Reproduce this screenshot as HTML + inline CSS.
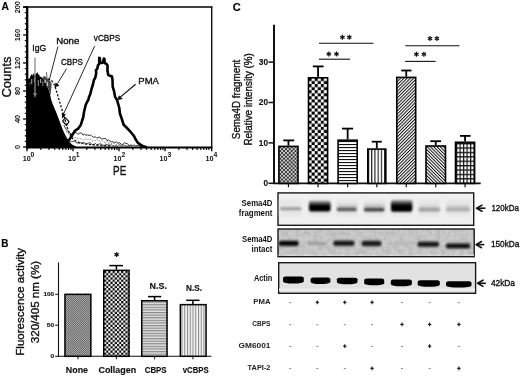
<!DOCTYPE html>
<html><head><meta charset="utf-8"><style>
html,body{margin:0;padding:0;background:#fff;}
body{width:520px;height:376px;overflow:hidden;}
svg{display:block;font-family:"Liberation Sans", sans-serif;-webkit-font-smoothing:antialiased;filter:grayscale(1);}
</style></head><body>
<svg width="520" height="376" viewBox="0 0 520 376">
<rect width="520" height="376" fill="#fff"/>

<defs>
<pattern id="pB1" x="0" y="295" width="2" height="13" patternUnits="userSpaceOnUse"><rect width="2" height="7" fill="#a6a6a6"/><rect y="7" width="2" height="6" fill="#949494"/><rect x="0" y="0" width="1" height="1" fill="#6c6c6c"/><rect x="1" y="1" width="1" height="1" fill="#6c6c6c"/><rect x="0" y="2" width="1" height="1" fill="#6c6c6c"/><rect x="1" y="3" width="1" height="1" fill="#6c6c6c"/><rect x="0" y="4" width="1" height="1" fill="#6c6c6c"/><rect x="1" y="5" width="1" height="1" fill="#6c6c6c"/><rect x="0" y="6" width="1" height="1" fill="#6c6c6c"/><rect x="1" y="7" width="1" height="1" fill="#7c7c7c"/><rect x="0" y="8" width="1" height="1" fill="#7c7c7c"/><rect x="1" y="9" width="1" height="1" fill="#7c7c7c"/><rect x="0" y="10" width="1" height="1" fill="#7c7c7c"/><rect x="1" y="11" width="1" height="1" fill="#7c7c7c"/><rect x="0" y="12" width="1" height="1" fill="#7c7c7c"/></pattern>
<pattern id="pB2" x="104" y="271" width="4.3" height="4.3" patternUnits="userSpaceOnUse"><rect width="4.3" height="4.3" fill="#fff"/><rect width="2.15" height="2.15" fill="#000"/><rect x="2.15" y="2.15" width="2.15" height="2.15" fill="#000"/></pattern>
<pattern id="pB3" width="4" height="2.6" patternUnits="userSpaceOnUse"><rect width="4" height="2.6" fill="#e2e2e2"/><rect y="0" width="4" height="1.2" fill="#8a8a8a"/></pattern>
<pattern id="pB4" width="2.75" height="4" patternUnits="userSpaceOnUse"><rect width="2.75" height="4" fill="#f2f2f2"/><rect x="0" width="1" height="4" fill="#8a8a8a"/></pattern>
<pattern id="pC1" width="3.8" height="3.8" patternUnits="userSpaceOnUse"><rect width="3.8" height="3.8" fill="#d0d0d0"/><rect width="1.9" height="1.9" fill="#333"/><rect x="1.9" y="1.9" width="1.9" height="1.9" fill="#333"/></pattern>
<pattern id="pC2" x="308.6" y="78" width="6.1" height="6.1" patternUnits="userSpaceOnUse"><rect width="6.1" height="6.1" fill="#fff"/><rect width="3.05" height="3.05" fill="#000"/><rect x="3.05" y="3.05" width="3.05" height="3.05" fill="#000"/></pattern>
<pattern id="pC3" width="4" height="3" patternUnits="userSpaceOnUse"><rect width="4" height="3" fill="#fff"/><rect width="4" height="1.1" fill="#111"/></pattern>
<pattern id="pC4" width="3.2" height="4" patternUnits="userSpaceOnUse"><rect width="3.2" height="4" fill="#fff"/><rect width="1.1" height="4" fill="#111"/></pattern>
<pattern id="pC5" width="2.3" height="2.3" patternUnits="userSpaceOnUse" patternTransform="rotate(45)"><rect width="2.3" height="2.3" fill="#fff"/><rect width="1.0" height="2.3" fill="#111"/></pattern>
<pattern id="pC6" width="2.3" height="2.3" patternUnits="userSpaceOnUse" patternTransform="rotate(-45)"><rect width="2.3" height="2.3" fill="#fff"/><rect width="1.0" height="2.3" fill="#111"/></pattern>
<pattern id="pC7" x="456" y="143" width="3.5" height="4.4" patternUnits="userSpaceOnUse"><rect width="3.5" height="4.4" fill="#fff"/><rect width="3.5" height="1.3" fill="#111"/><rect width="1.2" height="4.4" fill="#111"/></pattern>
<linearGradient id="gBand" x1="0" y1="0" x2="0" y2="1"><stop offset="0" stop-color="#b0b0b0"/><stop offset="0.2" stop-color="#555"/><stop offset="0.38" stop-color="#080808"/><stop offset="1" stop-color="#000"/></linearGradient>
<filter id="noise" x="0" y="0" width="100%" height="100%"><feTurbulence type="fractalNoise" baseFrequency="0.22" numOctaves="2" seed="4"/><feColorMatrix type="matrix" values="0 0 0 0 0  0 0 0 0 0  0 0 0 0 0  0 0 0 -1.2 0.75"/></filter>
<filter id="blur3" x="-20%" y="-100%" width="140%" height="300%"><feGaussianBlur stdDeviation="0.85"/></filter>
<filter id="blur1" x="-20%" y="-50%" width="140%" height="200%"><feGaussianBlur stdDeviation="0.9"/></filter>
<filter id="blur2" x="-20%" y="-50%" width="140%" height="200%"><feGaussianBlur stdDeviation="0.6"/></filter>
</defs>
<text x="1.6" y="10.3" font-size="10.6" font-weight="bold" text-anchor="start" fill="#000" textLength="7.4" lengthAdjust="spacingAndGlyphs" stroke="#000" stroke-width="0.15">A</text>
<text transform="translate(20.4,7.2) rotate(-90)" x="0" y="0" font-size="7.4" font-weight="bold" text-anchor="middle" fill="#111" textLength="12.300000000000002" lengthAdjust="spacingAndGlyphs">200</text>
<text transform="translate(20.4,35.1) rotate(-90)" x="0" y="0" font-size="7.4" font-weight="bold" text-anchor="middle" fill="#111" textLength="12.300000000000002" lengthAdjust="spacingAndGlyphs">160</text>
<text transform="translate(20.4,63) rotate(-90)" x="0" y="0" font-size="7.4" font-weight="bold" text-anchor="middle" fill="#111" textLength="12.300000000000002" lengthAdjust="spacingAndGlyphs">120</text>
<text transform="translate(20.4,91) rotate(-90)" x="0" y="0" font-size="7.4" font-weight="bold" text-anchor="middle" fill="#111" textLength="8.200000000000001" lengthAdjust="spacingAndGlyphs">80</text>
<text transform="translate(20.4,119) rotate(-90)" x="0" y="0" font-size="7.4" font-weight="bold" text-anchor="middle" fill="#111" textLength="8.200000000000001" lengthAdjust="spacingAndGlyphs">40</text>
<text transform="translate(20.4,147) rotate(-90)" x="0" y="0" font-size="7.4" font-weight="bold" text-anchor="middle" fill="#111" textLength="4.1000000000000005" lengthAdjust="spacingAndGlyphs">0</text>
<text transform="translate(10.8,77) rotate(-90)" x="0" y="0" font-size="12.8" font-weight="normal" text-anchor="middle" fill="#111" textLength="41" lengthAdjust="spacingAndGlyphs" stroke="#111" stroke-width="0.35">Counts</text>
<polygon points="28.00,147.50 28.00,79.00 29.50,78.50 30.50,76.00 31.50,74.00 32.50,76.00 33.00,72.80 34.00,75.00 36.00,74.00 37.40,72.00 38.30,75.00 39.00,74.00 40.00,77.00 41.00,76.50 42.00,78.00 43.00,78.50 45.00,81.00 46.50,85.00 48.50,89.00 49.80,93.00 50.60,97.00 51.30,100.00 52.30,103.00 53.50,106.00 55.00,109.50 56.50,113.00 58.00,117.00 59.50,121.00 61.00,125.00 62.50,129.00 64.00,132.50 65.50,135.50 67.00,138.00 68.50,140.50 70.00,142.50 72.00,144.50 75.00,146.00 78.00,147.50" fill="#000"/>
<polygon points="42.00,78.00 44.00,76.00 46.00,77.00 48.00,79.00 50.00,80.50 51.50,83.00 51.50,87.00 51.00,91.00 50.50,95.00 49.80,93.00 48.50,89.00 46.50,85.00 45.00,81.00 43.00,78.50" fill="#4a4a4a"/>
<rect x="31.20" y="79.00" width="1.00" height="5.00" fill="#aaa"/>
<rect x="33.80" y="78.00" width="0.90" height="4.00" fill="#888"/>
<rect x="37.80" y="80.00" width="1.00" height="6.00" fill="#999"/>
<rect x="40.20" y="79.00" width="1.00" height="4.00" fill="#bbb"/>
<rect x="42.30" y="81.00" width="1.00" height="5.00" fill="#888"/>
<rect x="29.50" y="82.00" width="0.80" height="3.00" fill="#666"/>
<rect x="44.50" y="80.00" width="1.20" height="3.00" fill="#ccc"/>
<rect x="46.80" y="82.00" width="1.20" height="4.00" fill="#bbb"/>
<line x1="46.5" y1="72" x2="47" y2="79" stroke="#666" stroke-width="1.0"/>
<line x1="35.0" y1="57.4" x2="35.0" y2="95" stroke="#8c8c8c" stroke-width="1.3"/>
<polygon points="33.00,93.00 37.00,93.00 35.00,98.00" fill="#7c7c7c"/>
<line x1="57.9" y1="46.6" x2="49.5" y2="79" stroke="#111" stroke-width="0.9"/>
<line x1="66.6" y1="68.6" x2="57.5" y2="83.5" stroke="#111" stroke-width="0.9"/>
<polygon points="54.60,87.60 55.60,82.60 59.40,85.60" fill="#000"/>
<line x1="94.6" y1="46.1" x2="63.8" y2="113.5" stroke="#111" stroke-width="0.9"/>
<polygon points="62.00,118.50 61.80,112.80 65.80,114.60" fill="#000"/>
<polyline points="48.00,79.00 50.00,79.50 52.00,81.00 54.00,84.00 55.50,88.00 57.00,93.00 58.50,98.00 60.00,103.00 61.50,108.00 63.00,113.00 64.50,118.00 66.00,123.00 67.50,128.00 69.00,132.00 71.00,136.00 73.00,139.00 76.00,141.00 80.00,143.00 86.00,144.00 95.00,145.00 110.00,146.00" fill="none" stroke="#111" stroke-width="1.3" stroke-dasharray="2.2,1.6"/>
<polyline points="64.00,125.37 66.00,129.11 68.00,131.69 70.00,133.25 72.00,134.30 74.00,132.71 76.00,132.33 78.00,134.31 80.00,132.92 81.50,133.11 83.00,135.19 84.50,134.18 86.00,135.31 87.50,134.82 89.00,135.58 90.50,134.79 92.00,136.32 93.50,137.26 95.00,136.81 96.50,137.70 98.00,137.91 99.50,136.83 101.00,138.87 102.50,138.84 104.00,138.52 105.50,138.25 107.00,140.63 108.50,140.06 110.00,141.03 111.60,141.81 113.20,141.81 114.80,142.71 116.40,141.85 118.00,143.22 119.60,142.71 121.20,144.23 122.80,144.43 124.40,142.89 126.00,143.33 127.60,143.78 129.20,145.84 130.80,144.83 132.40,145.54 134.00,145.02 135.60,145.72 137.20,145.63 138.80,145.74 140.40,146.50 142.00,146.50" fill="none" stroke="#222" stroke-width="0.9"/>
<polyline points="64.00,136.15 65.50,137.85 67.00,138.58 68.50,140.15 70.00,141.14 71.50,141.76 73.00,141.56 74.50,141.02 76.00,142.65 77.60,143.04 79.20,143.13 80.80,142.72 82.40,143.18 84.00,142.48 85.60,143.76 87.20,143.45 88.80,143.09 90.40,142.85 92.00,144.44 93.60,144.82 95.20,143.34 96.80,144.76 98.40,144.20 100.00,143.87 101.43,144.20 102.86,145.13 104.29,145.39 105.71,143.97 107.14,145.06 108.57,144.11 110.00,145.39 111.43,144.78 112.86,145.86 114.29,146.12 115.71,145.35 117.14,146.33 118.57,145.17 120.00,144.84 121.50,145.88 123.00,144.96 124.50,145.36 126.00,145.83 127.50,146.30 129.00,145.58 130.50,145.48 132.00,146.40" fill="none" stroke="#333" stroke-width="0.9"/>
<polyline points="66.00,131.74 67.50,132.13 69.00,134.92 70.50,136.29 72.00,136.76 73.60,137.22 75.20,137.64 76.80,138.19 78.40,138.39 80.00,138.62 81.60,138.94 83.20,139.78 84.80,139.11 86.40,139.16 88.00,139.94 89.60,139.18 91.20,139.50 92.80,141.06 94.40,140.34 96.00,140.60 97.60,139.82 99.20,140.93 100.80,141.56 102.40,140.74 104.00,142.23 105.60,142.50 107.20,141.60 108.80,142.97 110.40,142.89 112.00,143.56 113.60,143.13 115.20,144.05 116.80,144.34 118.40,143.12 120.00,144.30" fill="none" stroke="#555" stroke-width="0.7" stroke-dasharray="1.5,1.2"/>
<polyline points="62.50,121.00 65.50,117.80 69.00,121.50 66.50,125.50 62.50,121.00" fill="none" stroke="#111" stroke-width="1.2"/>
<polyline points="62.00,146.50 66.00,143.00 69.60,139.30 72.00,135.50 75.00,130.70 77.90,128.90 80.90,124.70 82.00,121.00 83.30,117.00 84.00,112.00 85.70,105.00 87.00,102.00 88.30,100.00 89.00,97.00 90.30,93.90 91.50,89.00 92.80,85.00 94.00,79.70 95.20,78.00 96.20,73.40 96.00,69.80 97.20,69.00 98.00,65.40 99.20,63.80 99.20,57.80 99.80,58.20 100.20,62.50 101.50,63.00 103.00,62.50 103.90,58.60 104.40,58.90 104.70,63.00 106.30,63.80 107.50,65.40 107.50,71.00 108.30,75.00 110.00,75.70 112.00,76.50 112.50,80.00 112.70,86.70 114.00,91.00 115.00,96.60 117.00,100.00 118.20,104.00 119.30,108.00 119.90,113.50 121.50,118.00 123.60,124.70 126.00,127.00 129.20,130.30 131.50,133.00 133.90,135.90 135.70,139.50 137.60,142.40 140.00,144.50 143.00,146.20 147.00,147.30" fill="none" stroke="#000" stroke-width="2.6" stroke-linejoin="round"/>
<line x1="135.6" y1="84.3" x2="120.0" y2="97.4" stroke="#111" stroke-width="1.2"/>
<polygon points="117.20,100.20 118.90,95.20 122.80,98.90" fill="#111"/>
<line x1="27.2" y1="6.3" x2="27.2" y2="148.5" stroke="#000" stroke-width="2.3"/>
<line x1="23.2" y1="7" x2="212.4" y2="7" stroke="#000" stroke-width="1.35"/>
<line x1="211.7" y1="6.4" x2="211.7" y2="147.5" stroke="#111" stroke-width="1.4"/>
<line x1="26" y1="147.5" x2="212.4" y2="147.5" stroke="#000" stroke-width="1.9"/>
<line x1="23.1" y1="7.0" x2="27" y2="7.0" stroke="#000" stroke-width="1.3"/>
<line x1="24.8" y1="12.6" x2="27" y2="12.6" stroke="#000" stroke-width="1.2"/>
<line x1="24.8" y1="18.2" x2="27" y2="18.2" stroke="#000" stroke-width="1.2"/>
<line x1="24.8" y1="23.799999999999997" x2="27" y2="23.799999999999997" stroke="#000" stroke-width="1.2"/>
<line x1="24.8" y1="29.4" x2="27" y2="29.4" stroke="#000" stroke-width="1.2"/>
<line x1="23.1" y1="35.0" x2="27" y2="35.0" stroke="#000" stroke-width="1.3"/>
<line x1="24.8" y1="40.599999999999994" x2="27" y2="40.599999999999994" stroke="#000" stroke-width="1.2"/>
<line x1="24.8" y1="46.199999999999996" x2="27" y2="46.199999999999996" stroke="#000" stroke-width="1.2"/>
<line x1="24.8" y1="51.8" x2="27" y2="51.8" stroke="#000" stroke-width="1.2"/>
<line x1="24.8" y1="57.4" x2="27" y2="57.4" stroke="#000" stroke-width="1.2"/>
<line x1="23.1" y1="63.0" x2="27" y2="63.0" stroke="#000" stroke-width="1.3"/>
<line x1="24.8" y1="68.6" x2="27" y2="68.6" stroke="#000" stroke-width="1.2"/>
<line x1="24.8" y1="74.19999999999999" x2="27" y2="74.19999999999999" stroke="#000" stroke-width="1.2"/>
<line x1="24.8" y1="79.8" x2="27" y2="79.8" stroke="#000" stroke-width="1.2"/>
<line x1="24.8" y1="85.39999999999999" x2="27" y2="85.39999999999999" stroke="#000" stroke-width="1.2"/>
<line x1="23.1" y1="91.0" x2="27" y2="91.0" stroke="#000" stroke-width="1.3"/>
<line x1="24.8" y1="96.6" x2="27" y2="96.6" stroke="#000" stroke-width="1.2"/>
<line x1="24.8" y1="102.19999999999999" x2="27" y2="102.19999999999999" stroke="#000" stroke-width="1.2"/>
<line x1="24.8" y1="107.8" x2="27" y2="107.8" stroke="#000" stroke-width="1.2"/>
<line x1="24.8" y1="113.39999999999999" x2="27" y2="113.39999999999999" stroke="#000" stroke-width="1.2"/>
<line x1="23.1" y1="119.0" x2="27" y2="119.0" stroke="#000" stroke-width="1.3"/>
<line x1="24.8" y1="124.6" x2="27" y2="124.6" stroke="#000" stroke-width="1.2"/>
<line x1="24.8" y1="130.2" x2="27" y2="130.2" stroke="#000" stroke-width="1.2"/>
<line x1="24.8" y1="135.79999999999998" x2="27" y2="135.79999999999998" stroke="#000" stroke-width="1.2"/>
<line x1="24.8" y1="141.39999999999998" x2="27" y2="141.39999999999998" stroke="#000" stroke-width="1.2"/>
<line x1="23.1" y1="147.0" x2="27" y2="147.0" stroke="#000" stroke-width="1.3"/>
<line x1="27" y1="147.5" x2="27" y2="151.2" stroke="#000" stroke-width="1.3"/>
<line x1="40.85" y1="147.5" x2="40.85" y2="150.0" stroke="#000" stroke-width="1.1"/>
<line x1="48.95" y1="147.5" x2="48.95" y2="150.0" stroke="#000" stroke-width="1.1"/>
<line x1="54.69" y1="147.5" x2="54.69" y2="150.0" stroke="#000" stroke-width="1.1"/>
<line x1="59.15" y1="147.5" x2="59.15" y2="150.0" stroke="#000" stroke-width="1.1"/>
<line x1="62.79" y1="147.5" x2="62.79" y2="150.0" stroke="#000" stroke-width="1.1"/>
<line x1="65.87" y1="147.5" x2="65.87" y2="150.0" stroke="#000" stroke-width="1.1"/>
<line x1="68.54" y1="147.5" x2="68.54" y2="150.0" stroke="#000" stroke-width="1.1"/>
<line x1="70.9" y1="147.5" x2="70.9" y2="150.0" stroke="#000" stroke-width="1.1"/>
<line x1="73" y1="147.5" x2="73" y2="151.2" stroke="#000" stroke-width="1.3"/>
<line x1="86.85" y1="147.5" x2="86.85" y2="150.0" stroke="#000" stroke-width="1.1"/>
<line x1="94.95" y1="147.5" x2="94.95" y2="150.0" stroke="#000" stroke-width="1.1"/>
<line x1="100.69" y1="147.5" x2="100.69" y2="150.0" stroke="#000" stroke-width="1.1"/>
<line x1="105.15" y1="147.5" x2="105.15" y2="150.0" stroke="#000" stroke-width="1.1"/>
<line x1="108.79" y1="147.5" x2="108.79" y2="150.0" stroke="#000" stroke-width="1.1"/>
<line x1="111.87" y1="147.5" x2="111.87" y2="150.0" stroke="#000" stroke-width="1.1"/>
<line x1="114.54" y1="147.5" x2="114.54" y2="150.0" stroke="#000" stroke-width="1.1"/>
<line x1="116.9" y1="147.5" x2="116.9" y2="150.0" stroke="#000" stroke-width="1.1"/>
<line x1="119" y1="147.5" x2="119" y2="151.2" stroke="#000" stroke-width="1.3"/>
<line x1="132.85" y1="147.5" x2="132.85" y2="150.0" stroke="#000" stroke-width="1.1"/>
<line x1="140.95" y1="147.5" x2="140.95" y2="150.0" stroke="#000" stroke-width="1.1"/>
<line x1="146.69" y1="147.5" x2="146.69" y2="150.0" stroke="#000" stroke-width="1.1"/>
<line x1="151.15" y1="147.5" x2="151.15" y2="150.0" stroke="#000" stroke-width="1.1"/>
<line x1="154.79" y1="147.5" x2="154.79" y2="150.0" stroke="#000" stroke-width="1.1"/>
<line x1="157.87" y1="147.5" x2="157.87" y2="150.0" stroke="#000" stroke-width="1.1"/>
<line x1="160.54" y1="147.5" x2="160.54" y2="150.0" stroke="#000" stroke-width="1.1"/>
<line x1="162.9" y1="147.5" x2="162.9" y2="150.0" stroke="#000" stroke-width="1.1"/>
<line x1="165" y1="147.5" x2="165" y2="151.2" stroke="#000" stroke-width="1.3"/>
<line x1="178.85" y1="147.5" x2="178.85" y2="150.0" stroke="#000" stroke-width="1.1"/>
<line x1="186.95" y1="147.5" x2="186.95" y2="150.0" stroke="#000" stroke-width="1.1"/>
<line x1="192.69" y1="147.5" x2="192.69" y2="150.0" stroke="#000" stroke-width="1.1"/>
<line x1="197.15" y1="147.5" x2="197.15" y2="150.0" stroke="#000" stroke-width="1.1"/>
<line x1="200.79" y1="147.5" x2="200.79" y2="150.0" stroke="#000" stroke-width="1.1"/>
<line x1="203.87" y1="147.5" x2="203.87" y2="150.0" stroke="#000" stroke-width="1.1"/>
<line x1="206.54" y1="147.5" x2="206.54" y2="150.0" stroke="#000" stroke-width="1.1"/>
<line x1="208.9" y1="147.5" x2="208.9" y2="150.0" stroke="#000" stroke-width="1.1"/>
<line x1="211.7" y1="147.5" x2="211.7" y2="151.2" stroke="#000" stroke-width="1.3"/>
<text x="22.7" y="160.8" font-size="7.3" font-weight="bold" text-anchor="start" fill="#111" textLength="8.0" lengthAdjust="spacingAndGlyphs">10</text>
<text x="30.6" y="156.6" font-size="6.6" font-weight="bold" text-anchor="start" fill="#111" textLength="3.8" lengthAdjust="spacingAndGlyphs">0</text>
<text x="67.9" y="160.8" font-size="7.3" font-weight="bold" text-anchor="start" fill="#111" textLength="8.0" lengthAdjust="spacingAndGlyphs">10</text>
<text x="75.80000000000001" y="156.6" font-size="6.6" font-weight="bold" text-anchor="start" fill="#111" textLength="3.8" lengthAdjust="spacingAndGlyphs">1</text>
<text x="113.6" y="160.8" font-size="7.3" font-weight="bold" text-anchor="start" fill="#111" textLength="8.0" lengthAdjust="spacingAndGlyphs">10</text>
<text x="121.5" y="156.6" font-size="6.6" font-weight="bold" text-anchor="start" fill="#111" textLength="3.8" lengthAdjust="spacingAndGlyphs">2</text>
<text x="159.5" y="160.8" font-size="7.3" font-weight="bold" text-anchor="start" fill="#111" textLength="8.0" lengthAdjust="spacingAndGlyphs">10</text>
<text x="167.4" y="156.6" font-size="6.6" font-weight="bold" text-anchor="start" fill="#111" textLength="3.8" lengthAdjust="spacingAndGlyphs">3</text>
<text x="205.5" y="160.8" font-size="7.3" font-weight="bold" text-anchor="start" fill="#111" textLength="8.0" lengthAdjust="spacingAndGlyphs">10</text>
<text x="213.4" y="156.6" font-size="6.6" font-weight="bold" text-anchor="start" fill="#111" textLength="3.8" lengthAdjust="spacingAndGlyphs">4</text>
<text x="113.1" y="174.5" font-size="13.3" font-weight="normal" text-anchor="start" fill="#111" textLength="13.2" lengthAdjust="spacingAndGlyphs" stroke="#111" stroke-width="0.35">PE</text>
<text x="32.3" y="51.2" font-size="8.9" font-weight="normal" text-anchor="start" fill="#111" textLength="14" lengthAdjust="spacingAndGlyphs" stroke="#111" stroke-width="0.35">IgG</text>
<text x="56.3" y="43.5" font-size="9.0" font-weight="normal" text-anchor="start" fill="#111" textLength="23" lengthAdjust="spacingAndGlyphs" stroke="#111" stroke-width="0.35">None</text>
<text x="61" y="64.8" font-size="9.5" font-weight="normal" text-anchor="start" fill="#111" textLength="21.9" lengthAdjust="spacingAndGlyphs" stroke="#111" stroke-width="0.35">CBPS</text>
<text x="93.8" y="41.3" font-size="9.5" font-weight="normal" text-anchor="start" fill="#111" textLength="26.3" lengthAdjust="spacingAndGlyphs" stroke="#111" stroke-width="0.35">vCBPS</text>
<text x="138.3" y="83.75" font-size="9.5" font-weight="normal" text-anchor="start" fill="#111" textLength="20.6" lengthAdjust="spacingAndGlyphs" stroke="#111" stroke-width="0.35">PMA</text>
<text x="1.2" y="246.8" font-size="11.0" font-weight="bold" text-anchor="start" fill="#000" textLength="7.2" lengthAdjust="spacingAndGlyphs" stroke="#000" stroke-width="0.15">B</text>
<text transform="translate(24,301.85) rotate(-90)" x="0" y="0" font-size="11.2" font-weight="normal" text-anchor="middle" fill="#111" textLength="107.7" lengthAdjust="spacingAndGlyphs" stroke="#111" stroke-width="0.35">Fluorescence activity</text>
<text transform="translate(39.4,302.05) rotate(-90)" x="0" y="0" font-size="11.5" font-weight="normal" text-anchor="middle" fill="#111" textLength="82.3" lengthAdjust="spacingAndGlyphs" stroke="#111" stroke-width="0.35">320/405 nm (%)</text>
<line x1="58.5" y1="262.5" x2="58.5" y2="356.8" stroke="#111" stroke-width="1.1"/>
<line x1="58" y1="356.3" x2="211.5" y2="356.3" stroke="#111" stroke-width="1.1"/>
<line x1="55.2" y1="294.3" x2="58.5" y2="294.3" stroke="#111" stroke-width="1.0"/>
<line x1="55.2" y1="325.2" x2="58.5" y2="325.2" stroke="#111" stroke-width="1.0"/>
<line x1="55.2" y1="356.3" x2="58.5" y2="356.3" stroke="#111" stroke-width="1.0"/>
<text x="54.2" y="296.1" font-size="5.9" font-weight="bold" text-anchor="end" fill="#222" textLength="10.8" lengthAdjust="spacingAndGlyphs" stroke="#222" stroke-width="0.15">100</text>
<text x="54.2" y="327.3" font-size="5.9" font-weight="bold" text-anchor="end" fill="#222" textLength="7.4" lengthAdjust="spacingAndGlyphs" stroke="#222" stroke-width="0.15">50</text>
<text x="54.2" y="358.4" font-size="5.9" font-weight="bold" text-anchor="end" fill="#222" textLength="3.7" lengthAdjust="spacingAndGlyphs" stroke="#222" stroke-width="0.15">0</text>
<rect x="64.95" y="294.35" width="25.90" height="61.95" fill="url(#pB1)" stroke="#000" stroke-width="1.5"/>
<rect x="103.75" y="270.35" width="25.30" height="85.95" fill="url(#pB2)" stroke="#000" stroke-width="1.5"/>
<line x1="116.4" y1="265.6" x2="116.4" y2="269.6" stroke="#000" stroke-width="1.5"/>
<line x1="109.3" y1="265.6" x2="123" y2="265.6" stroke="#000" stroke-width="1.5"/>
<rect x="141.75" y="300.75" width="25.30" height="55.55" fill="url(#pB3)" stroke="#000" stroke-width="1.5"/>
<line x1="154.6" y1="296.6" x2="154.6" y2="300" stroke="#000" stroke-width="1.5"/>
<line x1="148" y1="296.6" x2="161.3" y2="296.6" stroke="#000" stroke-width="1.5"/>
<rect x="180.35" y="304.65" width="25.70" height="51.65" fill="url(#pB4)" stroke="#000" stroke-width="1.5"/>
<line x1="192.9" y1="300.3" x2="192.9" y2="303.9" stroke="#000" stroke-width="1.5"/>
<line x1="186.2" y1="300.3" x2="199.5" y2="300.3" stroke="#000" stroke-width="1.5"/>
<line x1="78" y1="356.3" x2="78" y2="359.3" stroke="#111" stroke-width="1.0"/>
<line x1="116.4" y1="356.3" x2="116.4" y2="359.3" stroke="#111" stroke-width="1.0"/>
<line x1="154.6" y1="356.3" x2="154.6" y2="359.3" stroke="#111" stroke-width="1.0"/>
<line x1="192.9" y1="356.3" x2="192.9" y2="359.3" stroke="#111" stroke-width="1.0"/>
<line x1="116.60" y1="252.20" x2="116.60" y2="257.00" stroke="#111" stroke-width="1.3"/>
<line x1="114.52" y1="253.40" x2="118.68" y2="255.80" stroke="#111" stroke-width="1.3"/>
<line x1="118.68" y1="253.40" x2="114.52" y2="255.80" stroke="#111" stroke-width="1.3"/>
<text x="149.6" y="288.6" font-size="8.6" font-weight="bold" text-anchor="start" fill="#111" textLength="17.3" lengthAdjust="spacingAndGlyphs" stroke="#111" stroke-width="0.15">N.S.</text>
<text x="186" y="291.4" font-size="8.6" font-weight="bold" text-anchor="start" fill="#111" textLength="16.0" lengthAdjust="spacingAndGlyphs" stroke="#111" stroke-width="0.15">N.S.</text>
<text x="65.8" y="373.1" font-size="9.2" font-weight="bold" text-anchor="start" fill="#111" textLength="22.200000000000003" lengthAdjust="spacingAndGlyphs" stroke="#111" stroke-width="0.15">None</text>
<text x="98.5" y="373.1" font-size="9.2" font-weight="bold" text-anchor="start" fill="#111" textLength="37.599999999999994" lengthAdjust="spacingAndGlyphs" stroke="#111" stroke-width="0.15">Collagen</text>
<text x="144.7" y="373.1" font-size="9.2" font-weight="bold" text-anchor="start" fill="#111" textLength="21.900000000000006" lengthAdjust="spacingAndGlyphs" stroke="#111" stroke-width="0.15">CBPS</text>
<text x="182.8" y="373.1" font-size="9.2" font-weight="bold" text-anchor="start" fill="#111" textLength="25.799999999999983" lengthAdjust="spacingAndGlyphs" stroke="#111" stroke-width="0.15">vCBPS</text>
<text x="232.7" y="10.9" font-size="11.0" font-weight="bold" text-anchor="start" fill="#000" textLength="8.0" lengthAdjust="spacingAndGlyphs" stroke="#000" stroke-width="0.15">C</text>
<text transform="translate(240,99.4) rotate(-90)" x="0" y="0" font-size="10.3" font-weight="normal" text-anchor="middle" fill="#111" textLength="79.5" lengthAdjust="spacingAndGlyphs" stroke="#111" stroke-width="0.35">Sema4D fragment</text>
<text transform="translate(251.9,99.35) rotate(-90)" x="0" y="0" font-size="10.0" font-weight="normal" text-anchor="middle" fill="#111" textLength="92.3" lengthAdjust="spacingAndGlyphs" stroke="#111" stroke-width="0.35">Relative intensity (%)</text>
<line x1="274" y1="24.8" x2="274" y2="184" stroke="#111" stroke-width="2.0"/>
<line x1="273" y1="183.4" x2="480.7" y2="183.4" stroke="#111" stroke-width="1.6"/>
<line x1="268.5" y1="183.3" x2="274" y2="183.3" stroke="#111" stroke-width="1.5"/>
<text x="268.0" y="186.20000000000002" font-size="9.8" font-weight="bold" text-anchor="end" fill="#111" textLength="4.6" lengthAdjust="spacingAndGlyphs" stroke="#111" stroke-width="0.15">0</text>
<line x1="268.5" y1="142.9" x2="274" y2="142.9" stroke="#111" stroke-width="1.5"/>
<text x="268.0" y="145.8" font-size="9.8" font-weight="bold" text-anchor="end" fill="#111" textLength="9.2" lengthAdjust="spacingAndGlyphs" stroke="#111" stroke-width="0.15">10</text>
<line x1="268.5" y1="102.50000000000001" x2="274" y2="102.50000000000001" stroke="#111" stroke-width="1.5"/>
<text x="268.0" y="105.40000000000002" font-size="9.8" font-weight="bold" text-anchor="end" fill="#111" textLength="9.2" lengthAdjust="spacingAndGlyphs" stroke="#111" stroke-width="0.15">20</text>
<line x1="268.5" y1="62.10000000000001" x2="274" y2="62.10000000000001" stroke="#111" stroke-width="1.5"/>
<text x="268.0" y="65.00000000000001" font-size="9.8" font-weight="bold" text-anchor="end" fill="#111" textLength="9.2" lengthAdjust="spacingAndGlyphs" stroke="#111" stroke-width="0.15">30</text>
<rect x="278.90" y="146.40" width="19.10" height="37.00" fill="url(#pC1)" stroke="#000" stroke-width="1.6"/>
<line x1="288.45000000000005" y1="140.4" x2="288.45000000000005" y2="145.6" stroke="#000" stroke-width="1.8"/>
<line x1="283.3" y1="140.4" x2="294.2" y2="140.4" stroke="#000" stroke-width="1.8"/>
<line x1="288.45000000000005" y1="183.4" x2="288.45000000000005" y2="187.2" stroke="#111" stroke-width="1.2"/>
<rect x="308.50" y="77.80" width="19.10" height="105.60" fill="url(#pC2)" stroke="#000" stroke-width="1.6"/>
<line x1="318.04999999999995" y1="66.4" x2="318.04999999999995" y2="77.0" stroke="#000" stroke-width="1.8"/>
<line x1="312.8" y1="66.4" x2="323.6" y2="66.4" stroke="#000" stroke-width="1.8"/>
<line x1="318.04999999999995" y1="183.4" x2="318.04999999999995" y2="187.2" stroke="#111" stroke-width="1.2"/>
<rect x="338.10" y="140.20" width="19.10" height="43.20" fill="url(#pC3)" stroke="#000" stroke-width="1.6"/>
<line x1="347.65" y1="128.6" x2="347.65" y2="139.4" stroke="#000" stroke-width="1.8"/>
<line x1="342.0" y1="128.6" x2="353.1" y2="128.6" stroke="#000" stroke-width="1.8"/>
<line x1="347.65" y1="183.4" x2="347.65" y2="187.2" stroke="#111" stroke-width="1.2"/>
<rect x="367.80" y="149.10" width="18.00" height="34.30" fill="url(#pC4)" stroke="#000" stroke-width="1.6"/>
<line x1="376.8" y1="141.7" x2="376.8" y2="148.3" stroke="#000" stroke-width="1.8"/>
<line x1="371.7" y1="141.7" x2="381.8" y2="141.7" stroke="#000" stroke-width="1.8"/>
<line x1="376.8" y1="183.4" x2="376.8" y2="187.2" stroke="#111" stroke-width="1.2"/>
<rect x="396.80" y="77.40" width="18.90" height="106.00" fill="url(#pC5)" stroke="#000" stroke-width="1.6"/>
<line x1="406.25" y1="70.5" x2="406.25" y2="76.6" stroke="#000" stroke-width="1.8"/>
<line x1="401.2" y1="70.5" x2="411.5" y2="70.5" stroke="#000" stroke-width="1.8"/>
<line x1="406.25" y1="183.4" x2="406.25" y2="187.2" stroke="#111" stroke-width="1.2"/>
<rect x="426.00" y="146.00" width="19.50" height="37.40" fill="url(#pC6)" stroke="#000" stroke-width="1.6"/>
<line x1="435.75" y1="141.2" x2="435.75" y2="145.2" stroke="#000" stroke-width="1.8"/>
<line x1="430.3" y1="141.2" x2="441.1" y2="141.2" stroke="#000" stroke-width="1.8"/>
<line x1="435.75" y1="183.4" x2="435.75" y2="187.2" stroke="#111" stroke-width="1.2"/>
<rect x="455.50" y="142.30" width="19.10" height="41.10" fill="url(#pC7)" stroke="#000" stroke-width="1.6"/>
<line x1="465.04999999999995" y1="135.9" x2="465.04999999999995" y2="141.5" stroke="#000" stroke-width="1.8"/>
<line x1="460.0" y1="135.9" x2="470.6" y2="135.9" stroke="#000" stroke-width="1.8"/>
<line x1="465.04999999999995" y1="183.4" x2="465.04999999999995" y2="187.2" stroke="#111" stroke-width="1.2"/>
<line x1="319" y1="43.2" x2="373.5" y2="43.2" stroke="#111" stroke-width="1.1"/>
<line x1="319" y1="59.2" x2="350" y2="59.2" stroke="#111" stroke-width="1.1"/>
<line x1="405.2" y1="45.7" x2="459.5" y2="45.7" stroke="#111" stroke-width="1.1"/>
<line x1="405.2" y1="61.4" x2="435.6" y2="61.4" stroke="#111" stroke-width="1.1"/>
<line x1="342.40" y1="34.70" x2="342.40" y2="39.70" stroke="#111" stroke-width="1.2"/>
<line x1="340.23" y1="35.95" x2="344.57" y2="38.45" stroke="#111" stroke-width="1.2"/>
<line x1="344.57" y1="35.95" x2="340.23" y2="38.45" stroke="#111" stroke-width="1.2"/>
<line x1="349.30" y1="34.70" x2="349.30" y2="39.70" stroke="#111" stroke-width="1.2"/>
<line x1="347.13" y1="35.95" x2="351.47" y2="38.45" stroke="#111" stroke-width="1.2"/>
<line x1="351.47" y1="35.95" x2="347.13" y2="38.45" stroke="#111" stroke-width="1.2"/>
<line x1="328.80" y1="51.40" x2="328.80" y2="56.40" stroke="#111" stroke-width="1.2"/>
<line x1="326.63" y1="52.65" x2="330.97" y2="55.15" stroke="#111" stroke-width="1.2"/>
<line x1="330.97" y1="52.65" x2="326.63" y2="55.15" stroke="#111" stroke-width="1.2"/>
<line x1="336.50" y1="51.40" x2="336.50" y2="56.40" stroke="#111" stroke-width="1.2"/>
<line x1="334.33" y1="52.65" x2="338.67" y2="55.15" stroke="#111" stroke-width="1.2"/>
<line x1="338.67" y1="52.65" x2="334.33" y2="55.15" stroke="#111" stroke-width="1.2"/>
<line x1="430.00" y1="36.10" x2="430.00" y2="41.10" stroke="#111" stroke-width="1.2"/>
<line x1="427.83" y1="37.35" x2="432.17" y2="39.85" stroke="#111" stroke-width="1.2"/>
<line x1="432.17" y1="37.35" x2="427.83" y2="39.85" stroke="#111" stroke-width="1.2"/>
<line x1="436.90" y1="36.10" x2="436.90" y2="41.10" stroke="#111" stroke-width="1.2"/>
<line x1="434.73" y1="37.35" x2="439.07" y2="39.85" stroke="#111" stroke-width="1.2"/>
<line x1="439.07" y1="37.35" x2="434.73" y2="39.85" stroke="#111" stroke-width="1.2"/>
<line x1="416.40" y1="51.85" x2="416.40" y2="56.85" stroke="#111" stroke-width="1.2"/>
<line x1="414.23" y1="53.10" x2="418.57" y2="55.60" stroke="#111" stroke-width="1.2"/>
<line x1="418.57" y1="53.10" x2="414.23" y2="55.60" stroke="#111" stroke-width="1.2"/>
<line x1="423.90" y1="51.85" x2="423.90" y2="56.85" stroke="#111" stroke-width="1.2"/>
<line x1="421.73" y1="53.10" x2="426.07" y2="55.60" stroke="#111" stroke-width="1.2"/>
<line x1="426.07" y1="53.10" x2="421.73" y2="55.60" stroke="#111" stroke-width="1.2"/>
<rect x="278.00" y="192.90" width="195.70" height="32.40" fill="#efefef" stroke="#1a1a1a" stroke-width="1.4"/>
<rect x="279.60" y="200.00" width="22.10" height="16.00" rx="1.5" fill="#e6e6e6" filter="url(#blur1)"/>
<rect x="308.50" y="200.00" width="22.10" height="16.00" rx="1.5" fill="#e6e6e6" filter="url(#blur1)"/>
<rect x="336.30" y="200.00" width="21.20" height="16.00" rx="1.5" fill="#e6e6e6" filter="url(#blur1)"/>
<rect x="363.80" y="200.00" width="21.20" height="16.00" rx="1.5" fill="#e6e6e6" filter="url(#blur1)"/>
<rect x="390.80" y="200.00" width="21.50" height="16.00" rx="1.5" fill="#e6e6e6" filter="url(#blur1)"/>
<rect x="418.70" y="200.00" width="21.10" height="16.00" rx="1.5" fill="#e6e6e6" filter="url(#blur1)"/>
<rect x="446.40" y="200.00" width="23.20" height="16.00" rx="1.5" fill="#e6e6e6" filter="url(#blur1)"/>
<rect x="309" y="200.8" width="21.5" height="10.8" rx="2" fill="url(#gBand)" filter="url(#blur3)"/>
<rect x="391" y="200.0" width="21.3" height="11.8" rx="2" fill="url(#gBand)" filter="url(#blur3)"/>
<rect x="337.00" y="204.00" width="20.00" height="4.00" rx="1.5" fill="#cfcfcf" filter="url(#blur1)"/>
<rect x="364.00" y="204.00" width="21.00" height="4.00" rx="1.5" fill="#c8c8c8" filter="url(#blur1)"/>
<rect x="418.70" y="205.50" width="21.10" height="6.50" rx="1.5" fill="#cdcdcd" filter="url(#blur1)"/>
<rect x="446.40" y="205.00" width="23.20" height="7.00" rx="1.5" fill="#cfcfcf" filter="url(#blur1)"/>
<rect x="280.00" y="207.20" width="21.50" height="3.00" rx="1.50" fill="#9a9a9a" filter="url(#blur3)"/>
<rect x="336.80" y="207.50" width="20.00" height="3.80" rx="1.90" fill="#5a5a5a" filter="url(#blur3)"/>
<rect x="363.80" y="207.70" width="20.70" height="3.80" rx="1.90" fill="#444" filter="url(#blur3)"/>
<rect x="418.70" y="208.00" width="21.10" height="3.20" rx="1.60" fill="#a0a0a0" filter="url(#blur3)"/>
<rect x="446.40" y="207.70" width="23.20" height="3.00" rx="1.50" fill="#acacac" filter="url(#blur3)"/>
<rect x="278.00" y="229.00" width="196.20" height="27.70" fill="#cacaca" stroke="#1a1a1a" stroke-width="1.4"/>
<rect x="278.50" y="254.60" width="195.50" height="1.40" fill="#dadada"/>
<rect x="278.5" y="229.5" width="195.5" height="27" filter="url(#noise)" opacity="0.18"/>
<rect x="278.70" y="239.90" width="19.80" height="7.00" rx="1.5" fill="#8e8e8e" filter="url(#blur1)"/>
<rect x="333.50" y="239.70" width="20.70" height="7.00" rx="1.5" fill="#8e8e8e" filter="url(#blur1)"/>
<rect x="361.90" y="239.90" width="19.30" height="7.00" rx="1.5" fill="#8e8e8e" filter="url(#blur1)"/>
<rect x="417.70" y="240.70" width="21.10" height="7.00" rx="1.5" fill="#8e8e8e" filter="url(#blur1)"/>
<rect x="446.00" y="242.30" width="24.00" height="7.00" rx="1.5" fill="#8e8e8e" filter="url(#blur1)"/>
<rect x="278.70" y="241.20" width="19.80" height="4.40" rx="2.20" fill="#000" filter="url(#blur3)"/>
<rect x="307.50" y="242.10" width="19.20" height="2.80" rx="1.40" fill="#9c9c9c" filter="url(#blur3)"/>
<rect x="391.00" y="242.30" width="21.00" height="2.40" rx="1.20" fill="#b8b8b8" filter="url(#blur3)"/>
<rect x="333.50" y="241.20" width="20.70" height="4.00" rx="2.00" fill="#0a0a0a" filter="url(#blur3)"/>
<rect x="361.90" y="241.40" width="19.30" height="4.00" rx="2.00" fill="#0a0a0a" filter="url(#blur3)"/>
<rect x="417.70" y="242.20" width="21.10" height="4.00" rx="2.00" fill="#0a0a0a" filter="url(#blur3)"/>
<rect x="446.00" y="244.00" width="24.00" height="4.00" rx="2.00" fill="#0a0a0a" filter="url(#blur3)"/>
<rect x="278.70" y="262.70" width="196.90" height="30.60" fill="#e2e2e2" stroke="#1a1a1a" stroke-width="1.4"/>
<rect x="279.00" y="288.50" width="196.00" height="2.50" fill="#ececec"/>
<path d="M283.0,278.1 Q283.0,276.6 285.5,276.6 L301.3,276.6 Q303.8,276.6 303.8,278.1 L303.8,281.4 Q302.8,283.4 293.4,283.4 Q284.0,283.4 283.0,281.4 Z" fill="#050505" filter="url(#blur2)"/>
<path d="M310.6,278.9 Q310.6,277.4 313.1,277.4 L327.9,277.4 Q330.4,277.4 330.4,278.9 L330.4,282.0 Q329.4,284.0 320.5,284.0 Q311.6,284.0 310.6,282.0 Z" fill="#050505" filter="url(#blur2)"/>
<path d="M336.9,279.3 Q336.9,277.8 339.4,277.8 L355.0,277.8 Q357.5,277.8 357.5,279.3 L357.5,282.3 Q356.5,284.3 347.2,284.3 Q337.9,284.3 336.9,282.3 Z" fill="#050505" filter="url(#blur2)"/>
<path d="M364.2,280.1 Q364.2,278.6 366.7,278.6 L381.7,278.6 Q384.2,278.6 384.2,280.1 L384.2,283.2 Q383.2,285.2 374.2,285.2 Q365.2,285.2 364.2,283.2 Z" fill="#050505" filter="url(#blur2)"/>
<path d="M390.8,281.0 Q390.8,279.5 393.3,279.5 L409.4,279.5 Q411.9,279.5 411.9,281.0 L411.9,284.2 Q410.9,286.2 401.4,286.2 Q391.8,286.2 390.8,284.2 Z" fill="#050505" filter="url(#blur2)"/>
<path d="M417.7,281.7 Q417.7,280.2 420.2,280.2 L437.3,280.2 Q439.8,280.2 439.8,281.7 L439.8,284.7 Q438.8,286.7 428.8,286.7 Q418.7,286.7 417.7,284.7 Z" fill="#050505" filter="url(#blur2)"/>
<path d="M446.0,282.7 Q446.0,281.2 448.5,281.2 L469.0,281.2 Q471.5,281.2 471.5,282.7 L471.5,285.5 Q470.5,287.5 458.8,287.5 Q447.0,287.5 446.0,285.5 Z" fill="#050505" filter="url(#blur2)"/>
<text x="272.4" y="205.6" font-size="8.9" font-weight="bold" text-anchor="end" fill="#111" textLength="30.8" lengthAdjust="spacingAndGlyphs">Sema4D</text>
<text x="272.4" y="215.5" font-size="8.9" font-weight="bold" text-anchor="end" fill="#111" textLength="33.6" lengthAdjust="spacingAndGlyphs">fragment</text>
<text x="272.4" y="241.8" font-size="8.9" font-weight="bold" text-anchor="end" fill="#111" textLength="30.4" lengthAdjust="spacingAndGlyphs">Sema4D</text>
<text x="272.4" y="252.2" font-size="8.9" font-weight="bold" text-anchor="end" fill="#111" textLength="20.8" lengthAdjust="spacingAndGlyphs">intact</text>
<text x="272.4" y="281.2" font-size="8.9" font-weight="bold" text-anchor="end" fill="#111" textLength="18.5" lengthAdjust="spacingAndGlyphs">Actin</text>
<line x1="476.8" y1="208.2" x2="485.5" y2="208.2" stroke="#111" stroke-width="1.6"/>
<polyline points="482.00,205.10 476.60,208.20 482.00,211.30" fill="none" stroke="#111" stroke-width="1.6" stroke-linecap="round" stroke-linejoin="round"/>
<line x1="476.3" y1="244.6" x2="484.3" y2="244.6" stroke="#111" stroke-width="1.6"/>
<polyline points="481.50,241.50 476.10,244.60 481.50,247.70" fill="none" stroke="#111" stroke-width="1.6" stroke-linecap="round" stroke-linejoin="round"/>
<line x1="477.8" y1="283.3" x2="485.9" y2="283.3" stroke="#111" stroke-width="1.6"/>
<polyline points="483.00,280.20 477.60,283.30 483.00,286.40" fill="none" stroke="#111" stroke-width="1.6" stroke-linecap="round" stroke-linejoin="round"/>
<text x="491.4" y="210.6" font-size="8.9" font-weight="normal" text-anchor="start" fill="#111" textLength="27.6" lengthAdjust="spacingAndGlyphs" stroke="#111" stroke-width="0.35">120kDa</text>
<text x="490.9" y="247.4" font-size="8.9" font-weight="normal" text-anchor="start" fill="#111" textLength="28.5" lengthAdjust="spacingAndGlyphs" stroke="#111" stroke-width="0.35">150kDa</text>
<text x="490.9" y="285.9" font-size="8.9" font-weight="normal" text-anchor="start" fill="#111" textLength="24.0" lengthAdjust="spacingAndGlyphs" stroke="#111" stroke-width="0.35">42kDa</text>
<text x="270.5" y="304.0" font-size="7.8" font-weight="bold" text-anchor="end" fill="#222" textLength="17.19999999999999" lengthAdjust="spacingAndGlyphs">PMA</text>
<line x1="289.2" y1="302.6" x2="291.2" y2="302.6" stroke="#666" stroke-width="0.8"/>
<line x1="315.6" y1="302.3" x2="319.0" y2="302.3" stroke="#111" stroke-width="1.1"/>
<line x1="317.3" y1="300.40000000000003" x2="317.3" y2="304.2" stroke="#111" stroke-width="1.1"/>
<line x1="343.1" y1="302.3" x2="346.5" y2="302.3" stroke="#111" stroke-width="1.1"/>
<line x1="344.8" y1="300.40000000000003" x2="344.8" y2="304.2" stroke="#111" stroke-width="1.1"/>
<line x1="370.40000000000003" y1="302.3" x2="373.8" y2="302.3" stroke="#111" stroke-width="1.1"/>
<line x1="372.1" y1="300.40000000000003" x2="372.1" y2="304.2" stroke="#111" stroke-width="1.1"/>
<line x1="401.0" y1="302.6" x2="403.0" y2="302.6" stroke="#666" stroke-width="0.8"/>
<line x1="428.6" y1="302.6" x2="430.6" y2="302.6" stroke="#666" stroke-width="0.8"/>
<line x1="457.9" y1="302.6" x2="459.9" y2="302.6" stroke="#666" stroke-width="0.8"/>
<text x="270.5" y="326.2" font-size="7.8" font-weight="bold" text-anchor="end" fill="#222" textLength="18.30000000000001" lengthAdjust="spacingAndGlyphs">CBPS</text>
<line x1="289.2" y1="324.7" x2="291.2" y2="324.7" stroke="#666" stroke-width="0.8"/>
<line x1="316.3" y1="324.7" x2="318.3" y2="324.7" stroke="#666" stroke-width="0.8"/>
<line x1="343.8" y1="324.7" x2="345.8" y2="324.7" stroke="#666" stroke-width="0.8"/>
<line x1="371.1" y1="324.7" x2="373.1" y2="324.7" stroke="#666" stroke-width="0.8"/>
<line x1="400.3" y1="324.4" x2="403.7" y2="324.4" stroke="#111" stroke-width="1.1"/>
<line x1="402.0" y1="322.5" x2="402.0" y2="326.29999999999995" stroke="#111" stroke-width="1.1"/>
<line x1="427.90000000000003" y1="324.4" x2="431.3" y2="324.4" stroke="#111" stroke-width="1.1"/>
<line x1="429.6" y1="322.5" x2="429.6" y2="326.29999999999995" stroke="#111" stroke-width="1.1"/>
<line x1="457.2" y1="324.4" x2="460.59999999999997" y2="324.4" stroke="#111" stroke-width="1.1"/>
<line x1="458.9" y1="322.5" x2="458.9" y2="326.29999999999995" stroke="#111" stroke-width="1.1"/>
<text x="270.5" y="348.0" font-size="7.8" font-weight="bold" text-anchor="end" fill="#222" textLength="32.0" lengthAdjust="spacingAndGlyphs">GM6001</text>
<line x1="289.2" y1="346.40000000000003" x2="291.2" y2="346.40000000000003" stroke="#666" stroke-width="0.8"/>
<line x1="316.3" y1="346.40000000000003" x2="318.3" y2="346.40000000000003" stroke="#666" stroke-width="0.8"/>
<line x1="343.1" y1="346.1" x2="346.5" y2="346.1" stroke="#111" stroke-width="1.1"/>
<line x1="344.8" y1="344.20000000000005" x2="344.8" y2="348.0" stroke="#111" stroke-width="1.1"/>
<line x1="371.1" y1="346.40000000000003" x2="373.1" y2="346.40000000000003" stroke="#666" stroke-width="0.8"/>
<line x1="401.0" y1="346.40000000000003" x2="403.0" y2="346.40000000000003" stroke="#666" stroke-width="0.8"/>
<line x1="427.90000000000003" y1="346.1" x2="431.3" y2="346.1" stroke="#111" stroke-width="1.1"/>
<line x1="429.6" y1="344.20000000000005" x2="429.6" y2="348.0" stroke="#111" stroke-width="1.1"/>
<line x1="457.9" y1="346.40000000000003" x2="459.9" y2="346.40000000000003" stroke="#666" stroke-width="0.8"/>
<text x="270.5" y="370.4" font-size="7.8" font-weight="bold" text-anchor="end" fill="#222" textLength="22.900000000000006" lengthAdjust="spacingAndGlyphs">TAPI-2</text>
<line x1="289.2" y1="368.6" x2="291.2" y2="368.6" stroke="#666" stroke-width="0.8"/>
<line x1="316.3" y1="368.6" x2="318.3" y2="368.6" stroke="#666" stroke-width="0.8"/>
<line x1="343.8" y1="368.6" x2="345.8" y2="368.6" stroke="#666" stroke-width="0.8"/>
<line x1="370.40000000000003" y1="368.3" x2="373.8" y2="368.3" stroke="#111" stroke-width="1.1"/>
<line x1="372.1" y1="366.40000000000003" x2="372.1" y2="370.2" stroke="#111" stroke-width="1.1"/>
<line x1="401.0" y1="368.6" x2="403.0" y2="368.6" stroke="#666" stroke-width="0.8"/>
<line x1="428.6" y1="368.6" x2="430.6" y2="368.6" stroke="#666" stroke-width="0.8"/>
<line x1="457.2" y1="368.3" x2="460.59999999999997" y2="368.3" stroke="#111" stroke-width="1.1"/>
<line x1="458.9" y1="366.40000000000003" x2="458.9" y2="370.2" stroke="#111" stroke-width="1.1"/>
</svg>
</body></html>
